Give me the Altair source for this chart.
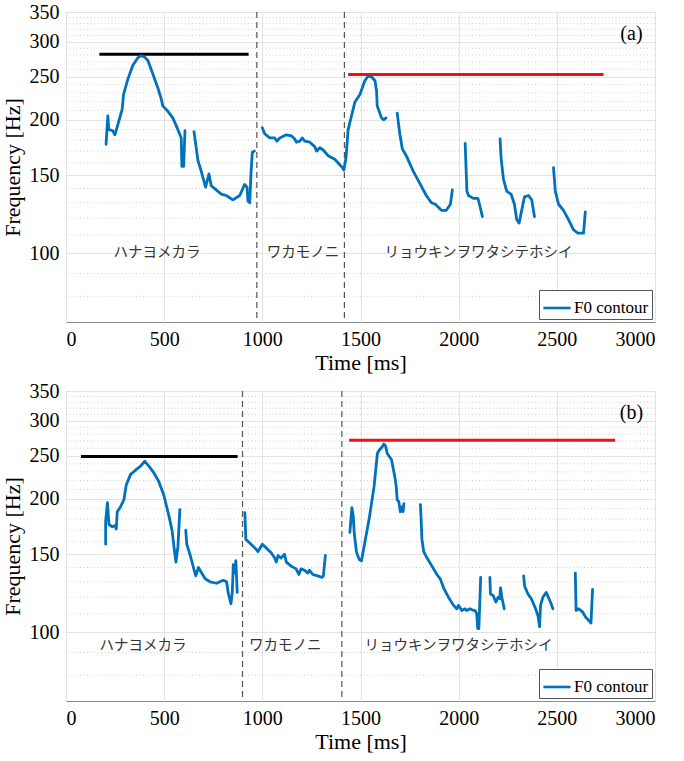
import altair as alt
import pandas as pd

# ---------------- panel (a) ----------------
# F0 contour, one pair of lists per voiced stretch (time in ms, F0 in Hz)
a1_ms = [204, 213, 218, 238, 249, 264, 286, 293, 315, 340, 366, 383, 400, 417, 442, 468, 485, 493, 519, 544, 570, 587, 590, 599, 606]
a1_hz = [176, 204, 190, 189, 185, 195, 211, 228, 247, 265, 276, 279, 277, 272, 254, 236, 223, 215, 209, 202, 190, 182, 157, 157, 189]
a2_ms = [652, 672, 689, 711, 728, 740, 765, 791, 816, 850, 885, 910, 922, 927, 936, 942, 949, 959]
a2_hz = [188, 162, 153, 141, 151, 142, 139, 136, 135, 132, 135, 143, 141, 131, 130, 151, 169, 170]
a3_ms = [1000, 1012, 1038, 1063, 1075, 1089, 1122, 1148, 1165, 1174, 1191, 1204, 1216, 1242, 1267, 1276, 1293, 1310,
         1335, 1369, 1391, 1408, 1415, 1426, 1437, 1454, 1471, 1497, 1522, 1539, 1556, 1574, 1582, 1585, 1595, 1607, 1619, 1630]
a3_hz = [192, 186, 182, 182, 179, 182, 185, 184, 181, 178, 179, 182, 179, 178, 174, 170, 173, 171,
         166, 163, 159, 156, 154, 164, 190, 204, 219, 228, 245, 251, 250, 245, 232, 215, 209, 202, 200, 202]
a4_ms = [1687, 1700, 1713, 1733, 1769, 1805, 1835, 1861, 1881, 1912, 1937, 1958, 1968]
a4_hz = [207, 186, 172, 166, 153, 143, 135, 130, 129, 125, 125, 129, 139]
a5_ms = [2033, 2042, 2050, 2075, 2098, 2106, 2121]
a5_hz = [177, 138, 135, 133, 133, 129, 121]
a6_ms = [2211, 2216, 2228, 2245, 2267, 2284, 2296, 2308, 2321, 2335, 2356, 2372, 2386]
a6_hz = [181, 164, 147, 138, 136, 129, 119, 117, 125, 134, 135, 132, 121]
a7_ms = [2483, 2492, 2509, 2534, 2560, 2585, 2607, 2625, 2636, 2645]
a7_hz = [156, 138, 129, 125, 119, 113, 111, 111, 111, 124]

a_black = (170, 930, 281)      # start ms, end ms, Hz
a_red = (1437, 2738, 253)
a_bounds = [972, 1418]         # phrase boundaries (ms)
a_phrase_ms = [464, 1207, 2101]
a_phrase_hz = 100

# ---------------- panel (b) ----------------
b1_ms = [202, 202, 211, 219, 236, 250, 256, 261, 278, 295, 307, 329, 354, 380, 401, 422, 447, 472, 498, 523, 540, 553, 560, 570, 580]
b1_hz = [158, 178, 196, 175, 173, 174, 171, 187, 192, 199, 215, 227, 232, 237, 243, 237, 229, 219, 204, 184, 170, 152, 144, 156, 189]
b2_ms = [610, 615, 633, 649, 661, 675, 691, 709, 734, 767, 801, 818, 826, 840, 847, 852, 860, 865, 872]
b2_hz = [170, 158, 149, 140, 134, 140, 136, 132, 130, 129, 131, 130, 123, 116, 123, 142, 136, 145, 123]
b3_ms = [911, 916, 936, 962, 978, 1000, 1020, 1046, 1063, 1071, 1080, 1096, 1113, 1122, 1147, 1172, 1186, 1197,
         1215, 1231, 1240, 1257, 1282, 1304, 1311, 1321]
b3_hz = [186, 162, 159, 155, 152, 158, 155, 151, 147, 144, 149, 147, 150, 144, 141, 139, 135, 139,
         138, 136, 138, 135, 134, 133, 134, 149]
b4_ms = [1446, 1456, 1463, 1468, 1479, 1493, 1505, 1518, 1544, 1569, 1586, 1594, 1611, 1619, 1628, 1636, 1658,
         1675, 1682, 1687, 1695, 1703, 1712, 1717, 1721]
b4_hz = [168, 191, 183, 168, 152, 146, 145, 156, 180, 213, 253, 257, 262, 266, 263, 253, 245,
         224, 213, 199, 197, 187, 192, 187, 195]
b5_ms = [1805, 1808, 1813, 1822, 1839, 1864, 1889, 1906, 1923, 1948, 1974, 1990, 1999, 2016, 2032, 2041, 2058,
         2075, 2083, 2092, 2097, 2103, 2112]
b5_hz = [194, 183, 162, 152, 147, 141, 135, 132, 126, 120, 115, 113, 115, 112, 113, 112, 113,
         112, 112, 110, 102, 102, 133]
b6_ms = [2159, 2162, 2176, 2189, 2201, 2210, 2213, 2220, 2232]
b6_hz = [133, 122, 121, 117, 120, 119, 126, 120, 113]
b7_ms = [2331, 2336, 2353, 2370, 2392, 2404, 2412, 2417, 2429, 2446, 2460, 2471, 2480]
b7_hz = [134, 127, 122, 119, 113, 109, 103, 115, 120, 123, 119, 116, 113]
b8_ms = [2594, 2598, 2611, 2632, 2648, 2665, 2674, 2682]
b8_hz = [136, 112, 113, 111, 108, 106, 105, 125]

b_black = (76, 874, 249)
b_red = (1442, 2797, 271)
b_bounds = [899, 1405]
b_phrase_ms = [392, 1117, 1999]
b_phrase_hz = 93

PHRASES = ["ハナヨメカラ", "ワカモノニ", "リョウキンヲワタシテホシイ"]

# ---------------- axes ----------------
X_TICKS = [0, 500, 1000, 1500, 2000, 2500, 3000]
Y_TICKS = [100, 150, 200, 250, 300, 350]
Y_MINOR = [80, 90, 110, 120, 130, 140, 160, 170, 180, 190, 210, 220, 230, 240,
           260, 270, 280, 290, 310, 320, 330, 340]

SERIF = "Liberation Serif"
JP = "Noto Sans CJK JP"
BLUE = "#0072BD"
W, H = 589, 310

x_scale = alt.Scale(domain=[0, 3000], nice=False, zero=False)
y_scale = alt.Scale(type="log", domain=[70, 350], nice=False)
x_axis = alt.Axis(values=X_TICKS, format="d", title="Time [ms]", grid=True,
                  labelFont=SERIF, labelFontSize=20, titleFont=SERIF, titleFontSize=22)
y_axis = alt.Axis(values=Y_TICKS, format="d", title="Frequency [Hz]", grid=True,
                  labelFont=SERIF, labelFontSize=20, titleFont=SERIF, titleFontSize=22)


def X(field):
    return alt.X(field, type="quantitative", scale=x_scale, axis=x_axis)


def Y(field):
    return alt.Y(field, type="quantitative", scale=y_scale, axis=y_axis)


def panel(segments, black, red, bounds, phrase_ms, phrase_hz, tag):
    rows = []
    for k, (t, f) in enumerate(segments):
        for i, (ti, fi) in enumerate(zip(t, f)):
            rows.append({"seg": k, "order": i, "t": ti, "f0": fi, "series": "F0 contour"})
    contour_df = pd.DataFrame(rows)

    minor = alt.Chart(pd.DataFrame({"f": Y_MINOR})).mark_rule(
        color="#cfcfcf", strokeDash=[1, 2.5], strokeWidth=1
    ).encode(y=Y("f"))

    dashed = alt.Chart(pd.DataFrame({"t": bounds})).mark_rule(
        color="#555555", strokeDash=[6, 4], strokeWidth=1.2
    ).encode(x=X("t"))

    levels = pd.DataFrame({
        "t0": [black[0], red[0]], "t1": [black[1], red[1]],
        "f": [black[2], red[2]], "kind": ["max1", "max2"],
    })
    level_rules = alt.Chart(levels).mark_rule(strokeWidth=3).encode(
        x=X("t0"), x2="t1", y=Y("f"),
        color=alt.Color("kind:N", scale=alt.Scale(domain=["max1", "max2"], range=["black", "#f01010"]), legend=None),
    )

    contour = alt.Chart(contour_df).mark_line(strokeWidth=2.8, strokeJoin="round", strokeCap="round").encode(
        x=X("t"), y=Y("f0"),
        detail="seg:N", order="order:Q",
        stroke=alt.Stroke(
            "series:N",
            scale=alt.Scale(domain=["F0 contour"], range=[BLUE]),
            legend=alt.Legend(
                title=None, orient="bottom-right", offset=3, padding=3,
                strokeColor="#555555", fillColor="white", cornerRadius=0,
                symbolType="stroke", symbolSize=740, symbolStrokeWidth=2.6,
                labelFont=SERIF, labelFontSize=17, labelColor="black", labelOffset=2,
            ),
        ),
    )

    phrases = alt.Chart(pd.DataFrame({"t": phrase_ms, "f": [phrase_hz] * 3, "txt": PHRASES})).mark_text(
        font=JP, fontSize=14.5, color="#333333", align="center", baseline="middle"
    ).encode(x=X("t"), y=Y("f"), text="txt:N")

    tag_mark = alt.Chart(pd.DataFrame({"t": [2880], "f": [313], "txt": [tag]})).mark_text(
        font=SERIF, fontSize=20, color="black", align="center", baseline="middle"
    ).encode(x=X("t"), y=Y("f"), text="txt:N")

    return alt.layer(minor, dashed, level_rules, contour, phrases, tag_mark).properties(width=W, height=H)


A_SEGMENTS = [(a1_ms, a1_hz), (a2_ms, a2_hz), (a3_ms, a3_hz), (a4_ms, a4_hz),
              (a5_ms, a5_hz), (a6_ms, a6_hz), (a7_ms, a7_hz)]
B_SEGMENTS = [(b1_ms, b1_hz), (b2_ms, b2_hz), (b3_ms, b3_hz), (b4_ms, b4_hz),
              (b5_ms, b5_hz), (b6_ms, b6_hz), (b7_ms, b7_hz), (b8_ms, b8_hz)]

top = panel(A_SEGMENTS, a_black, a_red, a_bounds, a_phrase_ms, a_phrase_hz, "(a)")
bottom = panel(B_SEGMENTS, b_black, b_red, b_bounds, b_phrase_ms, b_phrase_hz, "(b)")

chart = alt.vconcat(top, bottom, spacing=6).resolve_scale(
    stroke="independent", color="independent"
).resolve_legend(stroke="independent", color="independent").properties(
    padding={"left": 0, "top": 1, "right": 10, "bottom": 2},
).configure(
    font=SERIF, background="white"
).configure_view(
    stroke="#8a8a8a", strokeWidth=1
).configure_axis(
    domain=False, ticks=False,
    gridColor="#e3e3e3", gridWidth=1,
    labelFont=SERIF, labelFontSize=20, labelColor="black", labelPadding=7,
    titleFont=SERIF, titleFontSize=22, titleFontWeight="normal", titleColor="black",
).configure_axisX(titlePadding=3).configure_axisY(titlePadding=5).configure_legend(
    labelFont=SERIF
)

chart.save("out.html", embed_options={"renderer": "svg", "actions": False})
